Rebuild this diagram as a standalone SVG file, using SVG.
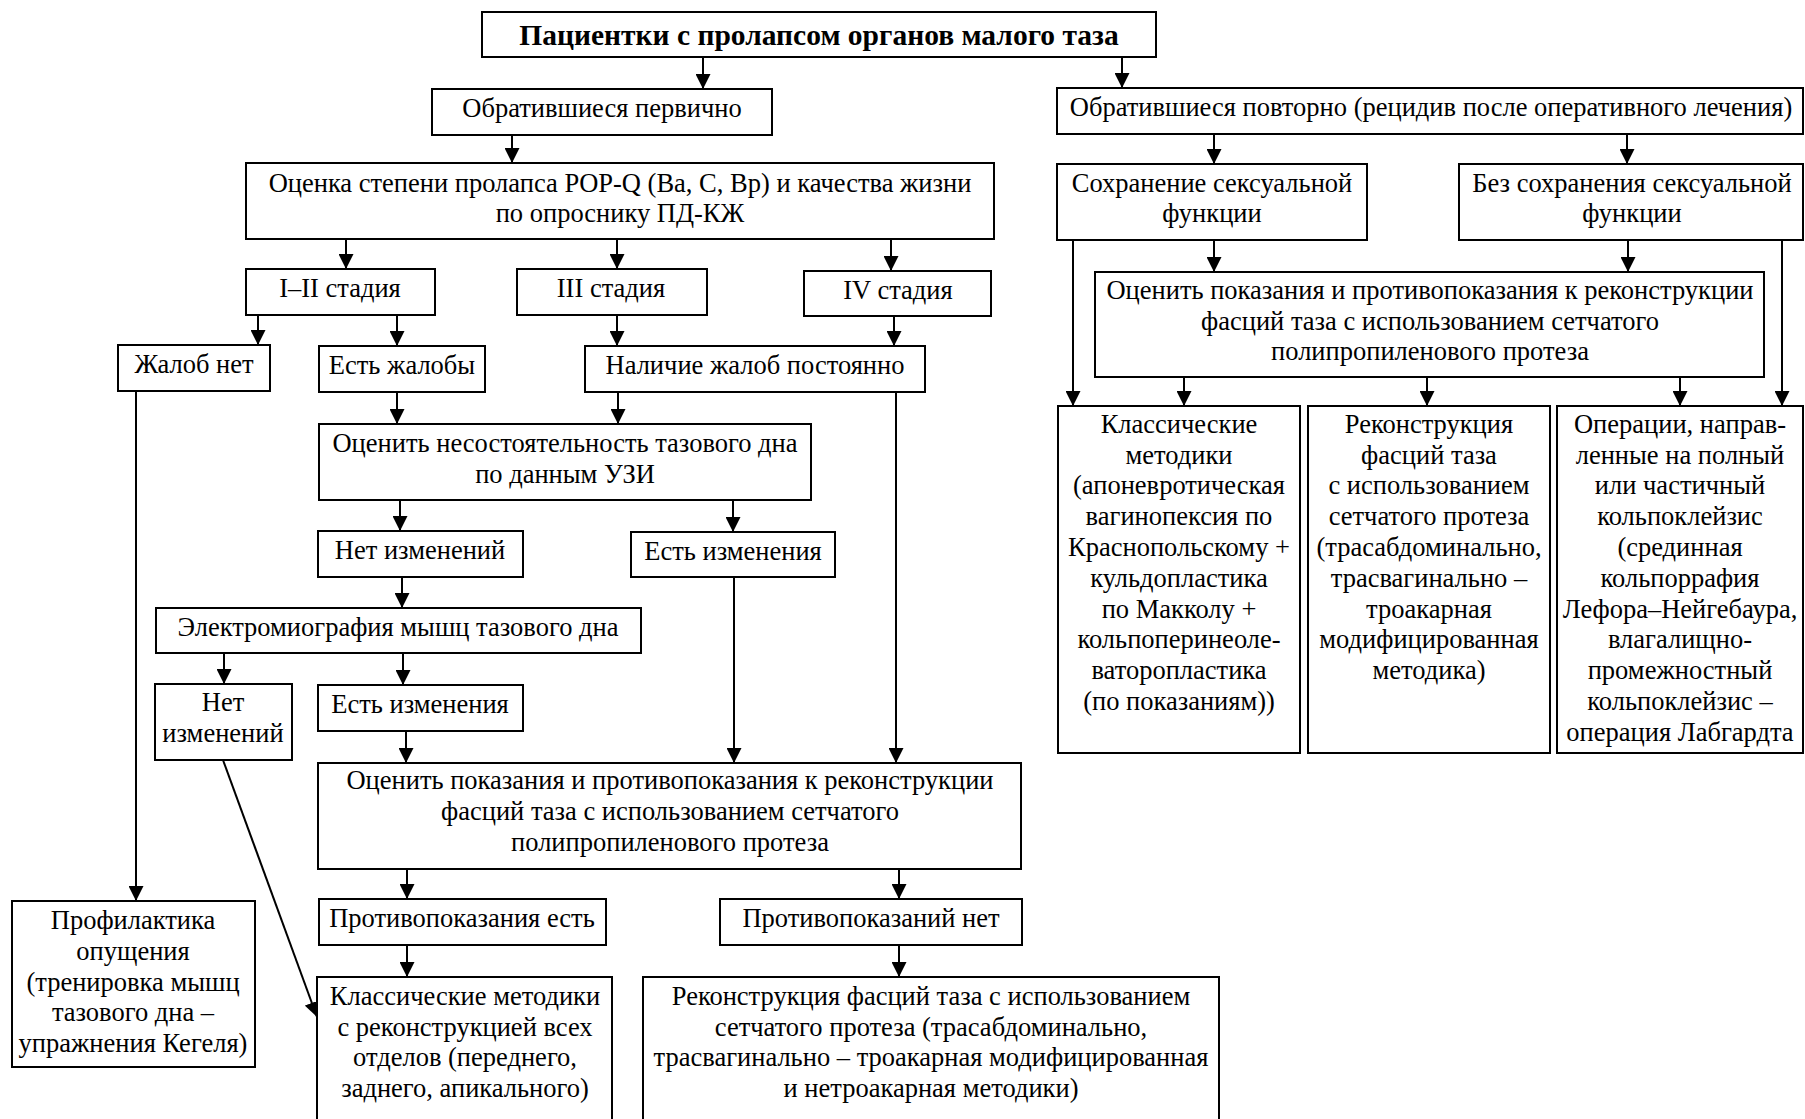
<svg xmlns="http://www.w3.org/2000/svg" width="1805" height="1119" viewBox="0 0 1805 1119">
<style>
.b{fill:#fff;stroke:#000;stroke-width:2}
.t{font-family:"Liberation Serif","Times New Roman",serif;font-size:26.5px;text-anchor:middle;fill:#000}
.h{font-weight:bold;font-size:29.5px}
.c{stroke:#000;stroke-width:2;fill:none}
</style>
<defs>
<marker id="a" markerUnits="userSpaceOnUse" markerWidth="14" markerHeight="15" refX="15" refY="7.5" orient="auto">
<path d="M0,0 L15,7.5 L0,15 z" fill="#000"/>
</marker>
</defs>
<rect width="1805" height="1119" fill="#fff"/>
<g id="connectors" class="c" marker-end="url(#a)">
<line x1="703" y1="57" x2="703" y2="89"/>
<line x1="1122" y1="57" x2="1122" y2="88"/>
<line x1="512" y1="135" x2="512" y2="163"/>
<line x1="346" y1="239" x2="346" y2="269"/>
<line x1="617" y1="239" x2="617" y2="269"/>
<line x1="891" y1="239" x2="891" y2="271"/>
<line x1="258" y1="315" x2="258" y2="345"/>
<line x1="397" y1="315" x2="397" y2="346"/>
<line x1="617" y1="315" x2="617" y2="346"/>
<line x1="894" y1="316" x2="894" y2="346"/>
<line x1="136" y1="391" x2="136" y2="901"/>
<line x1="397" y1="392" x2="397" y2="424"/>
<line x1="618" y1="392" x2="618" y2="424"/>
<line x1="896" y1="392" x2="896" y2="763"/>
<line x1="400" y1="500" x2="400" y2="531"/>
<line x1="733" y1="500" x2="733" y2="532"/>
<line x1="402" y1="577" x2="402" y2="608"/>
<line x1="224" y1="653" x2="224" y2="684"/>
<line x1="403" y1="653" x2="403" y2="685"/>
<line x1="406" y1="731" x2="406" y2="763"/>
<line x1="734" y1="577" x2="734" y2="763"/>
<line x1="223" y1="760" x2="317" y2="1017"/>
<line x1="407" y1="869" x2="407" y2="899"/>
<line x1="899" y1="869" x2="899" y2="899"/>
<line x1="407" y1="945" x2="407" y2="977"/>
<line x1="899" y1="945" x2="899" y2="977"/>
<line x1="1214" y1="134" x2="1214" y2="164"/>
<line x1="1627" y1="134" x2="1627" y2="164"/>
<line x1="1214" y1="240" x2="1214" y2="272"/>
<line x1="1628" y1="240" x2="1628" y2="272"/>
<line x1="1073" y1="240" x2="1073" y2="406"/>
<line x1="1782" y1="240" x2="1782" y2="406"/>
<line x1="1184" y1="377" x2="1184" y2="406"/>
<line x1="1427" y1="377" x2="1427" y2="406"/>
<line x1="1680" y1="377" x2="1680" y2="406"/>
</g>
<g id="n-title"><rect class="b" x="482" y="12" width="674" height="45"/><text class="t h" x="819" y="45">Пациентки с пролапсом органов малого таза</text></g>
<g id="n-obr1"><rect class="b" x="432" y="89" width="340" height="46"/><text class="t" x="602" y="117">Обратившиеся первично</text></g>
<g id="n-obr2"><rect class="b" x="1057" y="88" width="746" height="46"/><text class="t" x="1431" y="116">Обратившиеся повторно (рецидив после оперативного лечения)</text></g>
<g id="n-ocenka"><rect class="b" x="246" y="163" width="748" height="76"/><text class="t" x="620" y="192">Оценка степени пролапса POP-Q (Ba, C, Bp) и качества жизни</text><text class="t" x="620" y="222">по опроснику ПД-КЖ</text></g>
<g id="n-st12"><rect class="b" x="246" y="269" width="189" height="46"/><text class="t" x="340" y="297">I–II стадия</text></g>
<g id="n-st3"><rect class="b" x="517" y="269" width="190" height="46"/><text class="t" x="611" y="297">III стадия</text></g>
<g id="n-st4"><rect class="b" x="804" y="271" width="187" height="45"/><text class="t" x="898" y="299">IV стадия</text></g>
<g id="n-zhnet"><rect class="b" x="118" y="345" width="152" height="46"/><text class="t" x="194" y="373">Жалоб нет</text></g>
<g id="n-estzh"><rect class="b" x="319" y="346" width="166" height="46"/><text class="t" x="402" y="374">Есть жалобы</text></g>
<g id="n-nalich"><rect class="b" x="585" y="346" width="340" height="46"/><text class="t" x="755" y="374">Наличие жалоб постоянно</text></g>
<g id="n-nesost"><rect class="b" x="319" y="424" width="492" height="76"/><text class="t" x="565" y="452">Оценить несостоятельность тазового дна</text><text class="t" x="565" y="483">по данным УЗИ</text></g>
<g id="n-netizm1"><rect class="b" x="318" y="531" width="205" height="46"/><text class="t" x="420" y="559">Нет изменений</text></g>
<g id="n-estizm1"><rect class="b" x="631" y="532" width="204" height="45"/><text class="t" x="733" y="560">Есть изменения</text></g>
<g id="n-emg"><rect class="b" x="156" y="608" width="485" height="45"/><text class="t" x="398" y="636">Электромиография мышц тазового дна</text></g>
<g id="n-netizm2"><rect class="b" x="155" y="684" width="137" height="76"/><text class="t" x="223" y="711">Нет</text><text class="t" x="223" y="742">изменений</text></g>
<g id="n-estizm2"><rect class="b" x="318" y="685" width="205" height="46"/><text class="t" x="420" y="713">Есть изменения</text></g>
<g id="n-pokaz1"><rect class="b" x="318" y="763" width="703" height="106"/><text class="t" x="670" y="789">Оценить показания и противопоказания к реконструкции</text><text class="t" x="670" y="820">фасций таза с использованием сетчатого</text><text class="t" x="670" y="851">полипропиленового протеза</text></g>
<g id="n-protest"><rect class="b" x="319" y="899" width="287" height="46"/><text class="t" x="462" y="927">Противопоказания есть</text></g>
<g id="n-protnet"><rect class="b" x="720" y="899" width="302" height="46"/><text class="t" x="871" y="927">Противопоказаний нет</text></g>
<g id="n-profil"><rect class="b" x="12" y="901" width="243" height="166"/><text class="t" x="133" y="929">Профилактика</text><text class="t" x="133" y="960">опущения</text><text class="t" x="133" y="991">(тренировка мышц</text><text class="t" x="133" y="1021">тазового дна –</text><text class="t" x="133" y="1052">упражнения Кегеля)</text></g>
<g id="n-klass1"><rect class="b" x="317" y="977" width="295" height="150"/><text class="t" x="465" y="1005">Классические методики</text><text class="t" x="465" y="1036">с реконструкцией всех</text><text class="t" x="465" y="1066">отделов (переднего,</text><text class="t" x="465" y="1097">заднего, апикального)</text></g>
<g id="n-rekon1"><rect class="b" x="643" y="977" width="576" height="150"/><text class="t" x="931" y="1005">Реконструкция фасций таза с использованием</text><text class="t" x="931" y="1036">сетчатого протеза (трасабдоминально,</text><text class="t" x="931" y="1066">трасвагинально – троакарная модифицированная</text><text class="t" x="931" y="1097">и нетроакарная методики)</text></g>
<g id="n-sohr"><rect class="b" x="1057" y="164" width="310" height="76"/><text class="t" x="1212" y="192">Сохранение сексуальной</text><text class="t" x="1212" y="222">функции</text></g>
<g id="n-bez"><rect class="b" x="1459" y="164" width="344" height="76"/><text class="t" x="1632" y="192">Без сохранения сексуальной</text><text class="t" x="1632" y="222">функции</text></g>
<g id="n-pokaz2"><rect class="b" x="1095" y="272" width="669" height="105"/><text class="t" x="1430" y="299">Оценить показания и противопоказания к реконструкции</text><text class="t" x="1430" y="330">фасций таза с использованием сетчатого</text><text class="t" x="1430" y="360">полипропиленового протеза</text></g>
<g id="n-klass2"><rect class="b" x="1058" y="406" width="242" height="347"/>
<text class="t" x="1179" y="433">Классические</text><text class="t" x="1179" y="464">методики</text><text class="t" x="1179" y="494">(апоневротическая</text><text class="t" x="1179" y="525">вагинопексия по</text><text class="t" x="1179" y="556">Краснопольскому +</text><text class="t" x="1179" y="587">кульдопластика</text><text class="t" x="1179" y="618">по Макколу +</text><text class="t" x="1179" y="648">кольпоперинеоле-</text><text class="t" x="1179" y="679">ваторопластика</text><text class="t" x="1179" y="710">(по показаниям))</text></g>
<g id="n-rekon2"><rect class="b" x="1308" y="406" width="242" height="347"/>
<text class="t" x="1429" y="433">Реконструкция</text><text class="t" x="1429" y="464">фасций таза</text><text class="t" x="1429" y="494">с использованием</text><text class="t" x="1429" y="525">сетчатого протеза</text><text class="t" x="1429" y="556">(трасабдоминально,</text><text class="t" x="1429" y="587">трасвагинально –</text><text class="t" x="1429" y="618">троакарная</text><text class="t" x="1429" y="648">модифицированная</text><text class="t" x="1429" y="679">методика)</text></g>
<g id="n-oper"><rect class="b" x="1557" y="406" width="246" height="347"/>
<text class="t" x="1680" y="433">Операции, направ-</text><text class="t" x="1680" y="464">ленные на полный</text><text class="t" x="1680" y="494">или частичный</text><text class="t" x="1680" y="525">кольпоклейзис</text><text class="t" x="1680" y="556">(срединная</text><text class="t" x="1680" y="587">кольпоррафия</text><text class="t" x="1680" y="618">Лефора–Нейгебаура,</text><text class="t" x="1680" y="648">влагалищно-</text><text class="t" x="1680" y="679">промежностный</text><text class="t" x="1680" y="710">кольпоклейзис –</text><text class="t" x="1680" y="741">операция Лабгардта</text></g>
</svg>
